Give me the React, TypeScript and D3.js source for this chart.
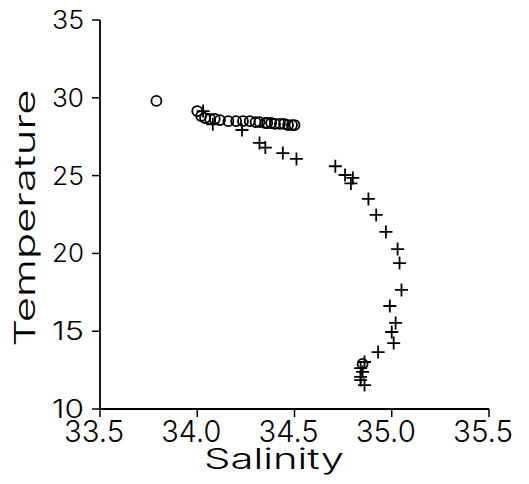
import React from "react";
import * as d3 from "d3";

const circleSalinity = [33.79, 34.0, 34.02, 34.04, 34.066, 34.09, 34.117, 34.16, 34.2, 34.235, 34.27, 34.3, 34.32, 34.35, 34.36, 34.38, 34.4, 34.425, 34.446, 34.467, 34.487, 34.5, 34.85];
const circleTemp = [29.8, 29.15, 28.83, 28.7, 28.64, 28.64, 28.57, 28.5, 28.5, 28.5, 28.5, 28.44, 28.44, 28.38, 28.38, 28.38, 28.32, 28.32, 28.32, 28.25, 28.25, 28.25, 12.9];

const crossSalinity = [34.03, 34.08, 34.23, 34.32, 34.35, 34.44, 34.51, 34.71, 34.76, 34.8, 34.79, 34.88, 34.92, 34.97, 35.03, 35.04, 35.05, 34.99, 35.02, 35.0, 35.01, 34.93, 34.86, 34.84, 34.85, 34.84, 34.84, 34.86];
const crossTemp = [29.15, 28.3, 27.93, 27.1, 26.8, 26.45, 26.07, 25.6, 25.04, 24.85, 24.5, 23.5, 22.47, 21.38, 20.28, 19.38, 17.65, 16.62, 15.53, 14.95, 14.24, 13.66, 13.02, 12.63, 12.38, 12.06, 11.86, 11.54];

const xTicks = [33.5, 34.0, 34.5, 35.0, 35.5];
const yTicks = [10, 15, 20, 25, 30, 35];

export default function App() {
  const W = 529, H = 484;
  const x = d3.scaleLinear().domain([33.5, 35.5]).range([100, 489]);
  const y = d3.scaleLinear().domain([10, 35]).range([409, 20]);
  const font = "Inter, 'DejaVu Sans', sans-serif";
  const fw = 300;
  const cs = 6.5;
  return (
    <svg width={W} height={H} style={{ position: "absolute", left: 0, top: 0, background: "#fff" }}>
      <rect width={W} height={H} fill="#fff" />
      <line x1={x(33.5)} x2={x(33.5)} y1={y(35)} y2={y(10)} stroke="#000" strokeWidth={1.8} />
      <line x1={x(33.5)} x2={x(35.5)} y1={y(10)} y2={y(10)} stroke="#000" strokeWidth={1.8} />
      {yTicks.map((t) => (
        <g key={"y" + t}>
          <line x1={x(33.5) - 8} x2={x(33.5)} y1={y(t)} y2={y(t)} stroke="#000" strokeWidth={1.5} />
          <text x={84} y={y(t)} dy="0.36em" textAnchor="end" fontFamily={font} fontWeight={fw} fontSize={25} fill="#000"
            textLength={32} lengthAdjust="spacingAndGlyphs">{String(t)}</text>
        </g>
      ))}
      {xTicks.map((t) => (
        <g key={"x" + t}>
          <line x1={x(t)} x2={x(t)} y1={y(10)} y2={y(10) + 8} stroke="#000" strokeWidth={1.5} />
          <text x={x(t) - 6} y={442} textAnchor="middle" fontFamily={font} fontWeight={fw} fontSize={30} fill="#000"
            textLength={60} lengthAdjust="spacingAndGlyphs">{t.toFixed(1)}</text>
        </g>
      ))}
      <text x={274} y={469} textAnchor="middle" fontFamily={font} fontWeight={fw} fontSize={28} fill="#000"
        textLength={140} lengthAdjust="spacingAndGlyphs">Salinity</text>
      <text transform={`translate(35,218) rotate(-90)`} textAnchor="middle" fontFamily={font} fontWeight={fw} fontSize={29} fill="#000"
        textLength={257} lengthAdjust="spacingAndGlyphs">Temperature</text>
      {crossSalinity.map((s, i) => (
        <path key={"c" + i}
          d={`M${x(s) - cs},${y(crossTemp[i])}H${x(s) + cs}M${x(s)},${y(crossTemp[i]) - cs}V${y(crossTemp[i]) + cs}`}
          stroke="#000" strokeWidth={1.8} fill="none" />
      ))}
      {circleSalinity.map((s, i) => (
        <circle key={"o" + i} cx={x(s)} cy={y(circleTemp[i])} r={5} fill="none" stroke="#000" strokeWidth={1.8} />
      ))}
    </svg>
  );
}
